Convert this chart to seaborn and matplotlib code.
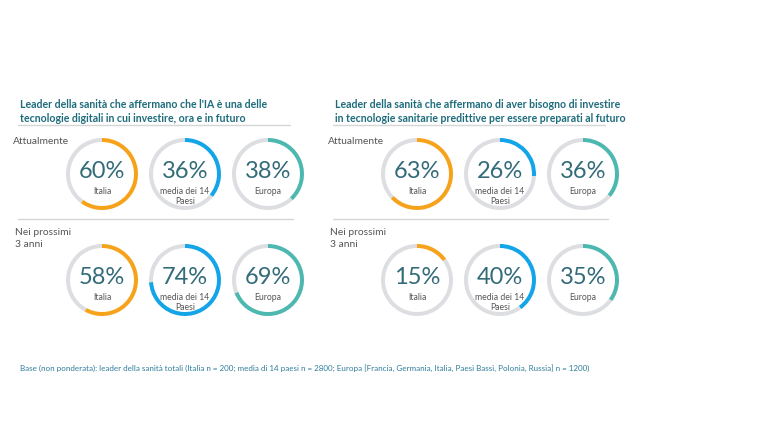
import numpy as np
import matplotlib
matplotlib.use("Agg")
import matplotlib.pyplot as plt
import seaborn as sns

# --- dati ---
titoli = [
    "Leader della sanità che affermano che l'IA è una delle\ntecnologie digitali in cui investire, ora e in futuro",
    "Leader della sanità che affermano di aver bisogno di investire\nin tecnologie sanitarie predittive per essere preparati al futuro",
]
righe = ["Attualmente", "Nei prossimi\n3 anni"]
gruppi = ["Italia", "media dei 14\nPaesi", "Europa"]
valori_ia = [[60, 36, 38], [58, 74, 69]]
valori_predittive = [[63, 26, 36], [15, 40, 35]]
nota = ("Base (non ponderata): leader della sanità totali (Italia n = 200; media di 14 paesi n = 2800; "
        "Europa [Francia, Germania, Italia, Paesi Bassi, Polonia, Russia] n = 1200)")

colori = ["#F7A21B", "#13A5E8", "#4DB8B0"]
grigio_anello = "#DDDEE1"
teal_titolo = "#1D6C7C"
teal_numeri = "#336B79"

sns.set_theme(style="white")
plt.rcParams["font.family"] = ["Lato", "DejaVu Sans"]

W, H = 768, 432
fig = plt.figure(figsize=(W / 100, H / 100), dpi=100)
ax = fig.add_axes([0, 0, 1, 1])

def Y(y):
    return H - y

pannelli = [valori_ia, valori_predittive]
x0_pannello = [18, 333]
dx_anelli = [84, 167, 250]
y_anelli = [174, 280]
raggio = 36

for p, (titolo, valori) in enumerate(zip(titoli, pannelli)):
    x0 = x0_pannello[p]
    ax.text(x0 + 2, Y(99), titolo, color=teal_titolo, fontsize=7.6, fontweight="bold",
            va="top", ha="left", linespacing=1.3)
    ax.plot([x0, x0 + 272], [Y(125), Y(125)], color="#D5D6D8", lw=1)
    ax.plot([x0, x0 + 275], [Y(219), Y(219)], color="#D5D6D8", lw=1)
    for r, riga in enumerate(righe):
        ax.text(x0 - 5 if r == 0 else x0 - 3, Y(137 if r == 0 else 228), riga, color="#555555",
                fontsize=7.4, va="top", ha="left", linespacing=1.4)
        for g, gruppo in enumerate(gruppi):
            v = valori[r][g]
            cx, cy = x0 + dx_anelli[g], Y(y_anelli[r])
            ax.pie([v, 100 - v], colors=[colori[g], grigio_anello], startangle=90,
                   counterclock=False, radius=raggio, center=(cx, cy),
                   wedgeprops=dict(width=4, edgecolor="none"))
            ax.text(cx, cy + 2, f"{v}%", color=teal_numeri, fontsize=17, fontweight="normal",
                    ha="center", va="center")
            ax.text(cx, cy - 13, gruppo, color="#555555", fontsize=6.2,
                    ha="center", va="top", linespacing=1.15)

ax.text(20, Y(368), nota, color="#2F7D9C", fontsize=5.8, ha="left", va="center")

ax.set_xlim(0, W)
ax.set_ylim(0, H)
ax.set_aspect("equal")
ax.axis("off")
fig.savefig("out.png", dpi=100, facecolor="white")
